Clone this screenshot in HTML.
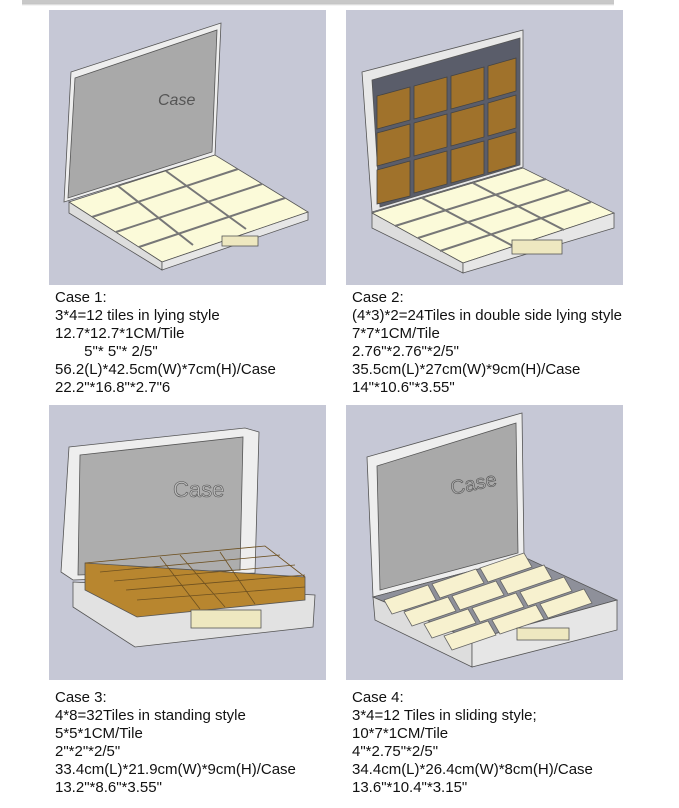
<!DOCTYPE html>
<html><head><meta charset="utf-8"><style>
html,body{margin:0;padding:0;background:#fff;width:679px;height:808px;overflow:hidden}
.t{position:absolute;font-family:"Liberation Sans",sans-serif;font-size:15px;line-height:18px;color:#111;white-space:pre}
</style></head><body>
<svg width="679" height="808" style="position:absolute;left:0;top:0">
<defs><linearGradient id="sh" x1="0" y1="0" x2="0" y2="1"><stop offset="0" stop-color="#bbb"/><stop offset="1" stop-color="#fff"/></linearGradient></defs>
<rect x="22" y="0" width="592" height="3" fill="#c8c8c8"/><rect x="22" y="3" width="592" height="3" fill="url(#sh)"/>
<rect x="49" y="10" width="277" height="275" fill="#c6c8d6"/>
<rect x="346" y="10" width="277" height="275" fill="#c6c8d6"/>
<rect x="49" y="405" width="277" height="275" fill="#c6c8d6"/>
<rect x="346" y="405" width="277" height="275" fill="#c6c8d6"/>
<g stroke="#555" stroke-width="0.8">
<!-- case1 -->
<polygon points="71,72 221,23 215,155 64,202" fill="#eee"/>
<polygon points="75,78 217,30 212,152 68,198" fill="#a9a9a9"/>
<polygon points="69,202 215,155 308,212 162,262" fill="#fbfad9"/>
<polygon points="69,202 162,262 162,270 69,213" fill="#ddd"/>
<polygon points="162,262 308,212 308,220 162,270" fill="#e6e6e6"/>
<path d="M118,186 L193,245 M166,171 L246,229 M92,217 L238,169 M116,232 L262,184 M139,247 L285,198" fill="none" stroke="#777" stroke-width="2"/>
<rect x="222" y="236" width="36" height="10" fill="#eee8c0"/>
</g>
<text x="158" y="105" font-family="Liberation Sans" font-style="italic" font-size="16" fill="#555">Case</text>
<g stroke="#555" stroke-width="0.8">
<!-- case2 -->
<polygon points="362,72 523,30 523,167 372,212" fill="#e8e8e8"/>
<polygon points="372,80 520,38 520,165 380,207" fill="#5a5d6a"/>
<g fill="#a0722b" stroke="#444">
<polygon points="377,96 410,87 410,120 377,129"/><polygon points="414,86 447,77 447,110 414,119"/><polygon points="451,76 484,67 484,100 451,109"/><polygon points="488,66 516,58 516,91 488,99"/>
<polygon points="377,133 410,124 410,157 377,166"/><polygon points="414,123 447,114 447,147 414,156"/><polygon points="451,113 484,104 484,137 451,146"/><polygon points="488,103 516,95 516,128 488,136"/>
<polygon points="377,170 410,161 410,196 377,204"/><polygon points="414,160 447,151 447,184 414,193"/><polygon points="451,150 484,141 484,174 451,183"/><polygon points="488,140 516,132 516,165 488,173"/>
</g>
<polygon points="372,213 523,168 614,213 463,263" fill="#fbfad9"/>
<polygon points="372,213 463,263 463,273 372,228" fill="#ddd"/>
<polygon points="463,263 614,213 614,228 463,273" fill="#e6e6e6"/>
<path d="M422,198 L513,246 M473,183 L564,230 M395,226 L546,179 M418,238 L569,190 M440,251 L591,202" fill="none" stroke="#777" stroke-width="2"/>
<rect x="512" y="240" width="50" height="14" fill="#eee8c0"/>
<!-- case3 -->
<polygon points="69,447 245,428 259,432 255,573 73,580 61,572" fill="#eee"/>
<polygon points="80,455 243,437 240,570 78,575" fill="#adadad"/>
<polygon points="73,582 315,595 313,627 135,647 73,607" fill="#e2e2e2"/>
<polygon points="85,563 305,577 305,600 137,617 85,590" fill="#b8862f"/>
<path d="M85,563 L265,546 L305,577 M100,572 L280,555 M114,581 L295,565 M126,590 L305,575 M137,600 L305,587 M160,557 L200,609 M220,552 L255,604 M180,555 L225,607" fill="none" stroke="#6d5020"/>
<rect x="191" y="610" width="70" height="18" fill="#eee8c0"/>
<!-- case4 -->
<polygon points="367,457 522,413 524,557 373,597" fill="#eee"/>
<polygon points="377,466 516,423 518,553 380,590" fill="#a9a9a9"/>
<polygon points="373,597 524,557 617,600 472,640" fill="#8e909a"/>
<polygon points="373,597 472,640 472,667 375,620" fill="#ddd"/>
<polygon points="472,640 617,600 617,630 472,667" fill="#e6e6e6"/>
<g fill="#f7f1cf" stroke="#666">
<polygon points="384,600 428,585 436,600 392,614"/><polygon points="432,584 476,569 484,583 440,598"/><polygon points="480,568 524,553 532,567 488,582"/>
<polygon points="404,612 448,597 456,611 412,626"/><polygon points="452,596 496,581 504,595 460,610"/><polygon points="500,580 544,565 552,579 508,594"/>
<polygon points="424,624 468,609 476,623 432,638"/><polygon points="472,608 516,593 524,607 480,622"/><polygon points="520,592 564,577 572,591 528,606"/>
<polygon points="444,636 488,621 496,635 452,650"/><polygon points="492,620 536,605 544,619 500,634"/><polygon points="540,604 584,589 592,603 548,618"/>
</g>
<rect x="517" y="628" width="52" height="12" fill="#eee8c0"/>
</g>
<text x="173" y="497" font-family="Liberation Sans" font-size="22" fill="#bbb" stroke="#555" stroke-width="0.6">Case</text>
<text x="452" y="495" font-family="Liberation Sans" font-size="20" fill="#aaa" stroke="#555" stroke-width="0.6" transform="rotate(-12 452 495)">Case</text>
</svg>
<div class="t" style="left:55px;top:289px">Case 1:
3*4=12 tiles in lying style
12.7*12.7*1CM/Tile
       5"* 5"* 2/5"
56.2(L)*42.5cm(W)*7cm(H)/Case
22.2"*16.8"*2.7"6</div>
<div class="t" style="left:352px;top:289px">Case 2:
(4*3)*2=24Tiles in double side lying style
7*7*1CM/Tile
2.76"*2.76"*2/5"
35.5cm(L)*27cm(W)*9cm(H)/Case
14"*10.6"*3.55"</div>
<div class="t" style="left:55px;top:689px">Case 3:
4*8=32Tiles in standing style
5*5*1CM/Tile
2"*2"*2/5"
33.4cm(L)*21.9cm(W)*9cm(H)/Case
13.2"*8.6"*3.55"</div>
<div class="t" style="left:352px;top:689px">Case 4:
3*4=12 Tiles in sliding style;
10*7*1CM/Tile
4"*2.75"*2/5"
34.4cm(L)*26.4cm(W)*8cm(H)/Case
13.6"*10.4"*3.15"</div>
</body></html>
